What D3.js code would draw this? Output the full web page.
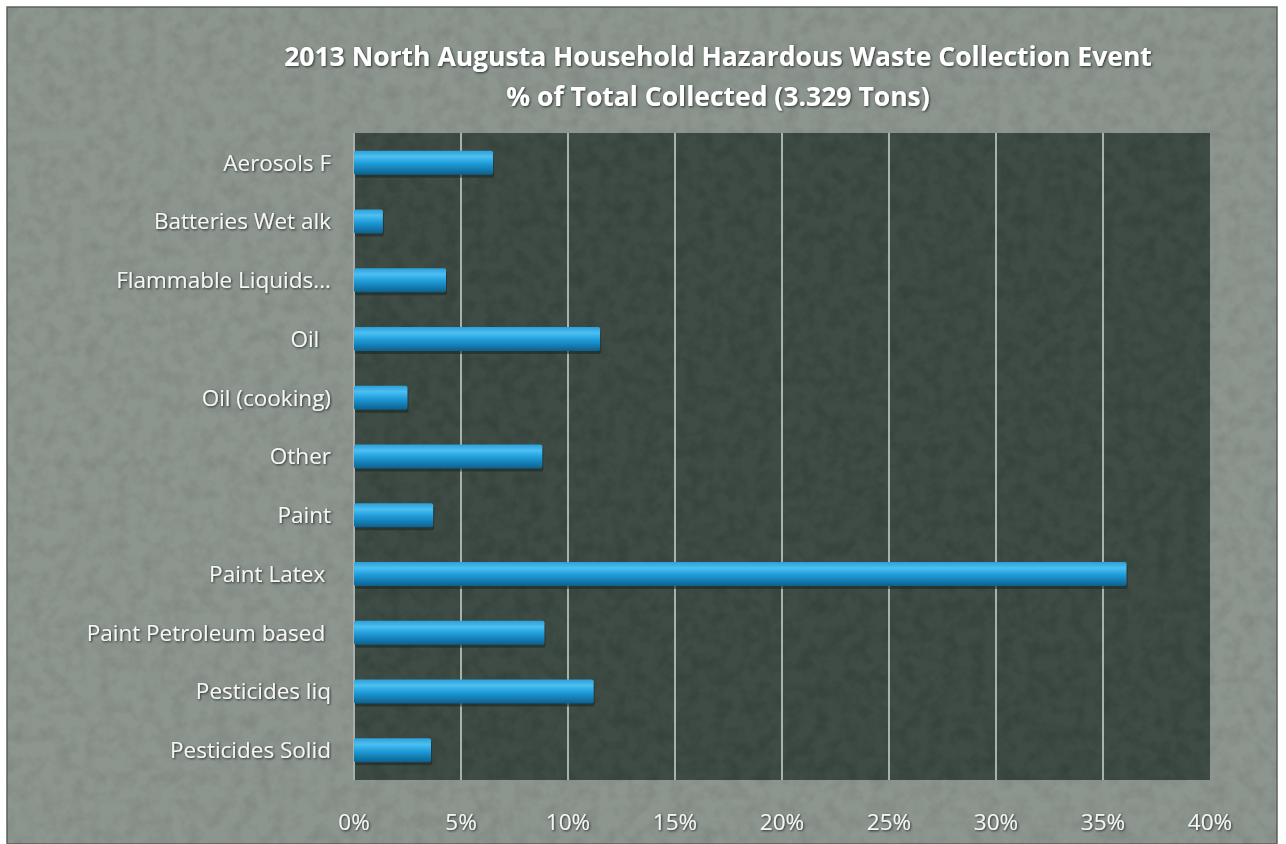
<!DOCTYPE html>
<html>
<head>
<meta charset="utf-8">
<script src="https://cdn.jsdelivr.net/npm/d3@7"></script>
<style>
  html, body { margin: 0; padding: 0; background: #ffffff; }
  svg text { font-family: "Open Sans", "Lato", sans-serif; white-space: pre; }
</style>
</head>
<body>
<div id="chart"></div>
<script>
// --- Data ---
const categories = [
  "Aerosols F", "Batteries Wet alk", "Flammable Liquids...", "Oil  ",
  "Oil (cooking)", "Other", "Paint", "Paint Latex ",
  "Paint Petroleum based ", "Pesticides liq", "Pesticides Solid"
];
const percentValues = [6.5, 1.35, 4.3, 11.5, 2.5, 8.8, 3.7, 36.1, 8.9, 11.2, 3.6];
const xTickValues = [0, 5, 10, 15, 20, 25, 30, 35, 40];
const titleLines = [
  "2013 North Augusta Household Hazardous Waste Collection Event",
  "% of Total Collected (3.329 Tons)"
];

// --- Layout ---
const W = 1286, H = 844;
const FRAME = { x: 7, y: 7, w: 1270, h: 837 };
const PLOT = { left: 354, top: 133, right: 1210, bottom: 780 };

const svg = d3.select("#chart").append("svg")
  .attr("width", W)
  .attr("height", H);

const defs = svg.append("defs");

// cylinder-ish gradient for the bars
const grad = defs.append("linearGradient")
  .attr("id", "barGrad")
  .attr("x1", 0).attr("y1", 0).attr("x2", 0).attr("y2", 1);
grad.append("stop").attr("offset", "0%").attr("stop-color", "#2b9fd8");
grad.append("stop").attr("offset", "25%").attr("stop-color", "#4cc0f2");
grad.append("stop").attr("offset", "55%").attr("stop-color", "#1d9ad8");
grad.append("stop").attr("offset", "100%").attr("stop-color", "#0d5f8c");

// paper noise for the scanned look
const noise = defs.append("filter").attr("id", "grain")
  .attr("x", 0).attr("y", 0).attr("width", "100%").attr("height", "100%");
noise.append("feTurbulence")
  .attr("type", "fractalNoise").attr("baseFrequency", 0.07)
  .attr("numOctaves", 3).attr("seed", 4).attr("result", "n");
noise.append("feColorMatrix")
  .attr("type", "matrix")
  .attr("values", "0 0 0 0 0  0 0 0 0 0  0 0 0 0 0  0 0 0 -0.9 0.55");
noise.append("feComposite").attr("in2", "SourceGraphic").attr("operator", "in");

// text shadow
const shadow = defs.append("filter").attr("id", "txtShadow")
  .attr("x", "-5%").attr("y", "-20%").attr("width", "110%").attr("height", "140%");
shadow.append("feDropShadow")
  .attr("dx", 1).attr("dy", 1).attr("stdDeviation", 0.8)
  .attr("flood-color", "#1e2420").attr("flood-opacity", 0.9);

// --- Background frame ---
svg.append("rect")
  .attr("x", FRAME.x).attr("y", FRAME.y)
  .attr("width", FRAME.w).attr("height", FRAME.h)
  .attr("fill", "#8d958f")
  .attr("stroke", "#5b625d").attr("stroke-width", 1.5);
svg.append("rect")
  .attr("x", FRAME.x).attr("y", FRAME.y)
  .attr("width", FRAME.w).attr("height", FRAME.h)
  .attr("fill", "#737c76")
  .attr("filter", "url(#grain)")
  .attr("opacity", 0.18);

// --- Scales ---
const xScale = d3.scaleLinear()
  .domain([0, 40])
  .range([PLOT.left, PLOT.right]);

const yScale = d3.scaleBand()
  .domain(categories)
  .range([PLOT.top, PLOT.bottom])
  .paddingInner(0.59)
  .paddingOuter(0.30);

// --- Plot area ---
svg.append("rect")
  .attr("x", PLOT.left).attr("y", PLOT.top)
  .attr("width", PLOT.right - PLOT.left)
  .attr("height", PLOT.bottom - PLOT.top)
  .attr("fill", "#3e4c45");
svg.append("rect")
  .attr("x", PLOT.left).attr("y", PLOT.top)
  .attr("width", PLOT.right - PLOT.left)
  .attr("height", PLOT.bottom - PLOT.top)
  .attr("fill", "#2a3630")
  .attr("filter", "url(#grain)")
  .attr("opacity", 0.3);

// gridlines (skip 0 and 40, those are the plot edges)
svg.append("g")
  .selectAll("line")
  .data(xTickValues.filter(d => d > 0 && d < 40))
  .join("line")
  .attr("x1", d => xScale(d)).attr("x2", d => xScale(d))
  .attr("y1", PLOT.top).attr("y2", PLOT.bottom)
  .attr("stroke", "#c5ccc6")
  .attr("stroke-width", 1.6);

// left axis line
svg.append("line")
  .attr("x1", PLOT.left).attr("x2", PLOT.left)
  .attr("y1", PLOT.top).attr("y2", PLOT.bottom)
  .attr("stroke", "#a9b0ab").attr("stroke-width", 2);

// --- Bars ---
const barData = categories.map((c, i) => ({ cat: c, value: percentValues[i] }));

// dark drop shadow under each bar
svg.append("g")
  .selectAll("rect")
  .data(barData)
  .join("rect")
  .attr("x", xScale(0) + 1)
  .attr("y", d => yScale(d.cat) + 3)
  .attr("width", d => xScale(d.value) - xScale(0))
  .attr("height", yScale.bandwidth())
  .attr("rx", 2)
  .attr("fill", "#1a2420")
  .attr("opacity", 0.55);

svg.append("g")
  .selectAll("rect")
  .data(barData)
  .join("rect")
  .attr("x", xScale(0))
  .attr("y", d => yScale(d.cat))
  .attr("width", d => xScale(d.value) - xScale(0))
  .attr("height", yScale.bandwidth())
  .attr("rx", 2)
  .attr("fill", "url(#barGrad)");

// --- Category labels ---
svg.append("g")
  .selectAll("text")
  .data(categories)
  .join("text")
  .attr("x", 331)
  .attr("y", d => yScale(d) + yScale.bandwidth() / 2)
  .attr("dy", "0.35em")
  .attr("text-anchor", "end")
  .attr("font-size", 22.5)
  .attr("fill", "#f4f6f4")
  .attr("filter", "url(#txtShadow)")
  .text(d => d);

// --- X axis tick labels ---
svg.append("g")
  .selectAll("text")
  .data(xTickValues)
  .join("text")
  .attr("x", d => xScale(d))
  .attr("y", 822)
  .attr("dy", "0.35em")
  .attr("text-anchor", "middle")
  .attr("font-size", 22.5)
  .attr("fill", "#f4f6f4")
  .attr("filter", "url(#txtShadow)")
  .text(d => `${d}%`);

// --- Title ---
svg.append("g")
  .selectAll("text")
  .data(titleLines)
  .join("text")
  .attr("x", 718)
  .attr("y", (d, i) => 57 + i * 40)
  .attr("dy", "0.35em")
  .attr("text-anchor", "middle")
  .attr("font-size", 26.5)
  .attr("font-weight", "bold")
  .attr("fill", "#ffffff")
  .attr("filter", "url(#txtShadow)")
  .text(d => d);
</script>
</body>
</html>
